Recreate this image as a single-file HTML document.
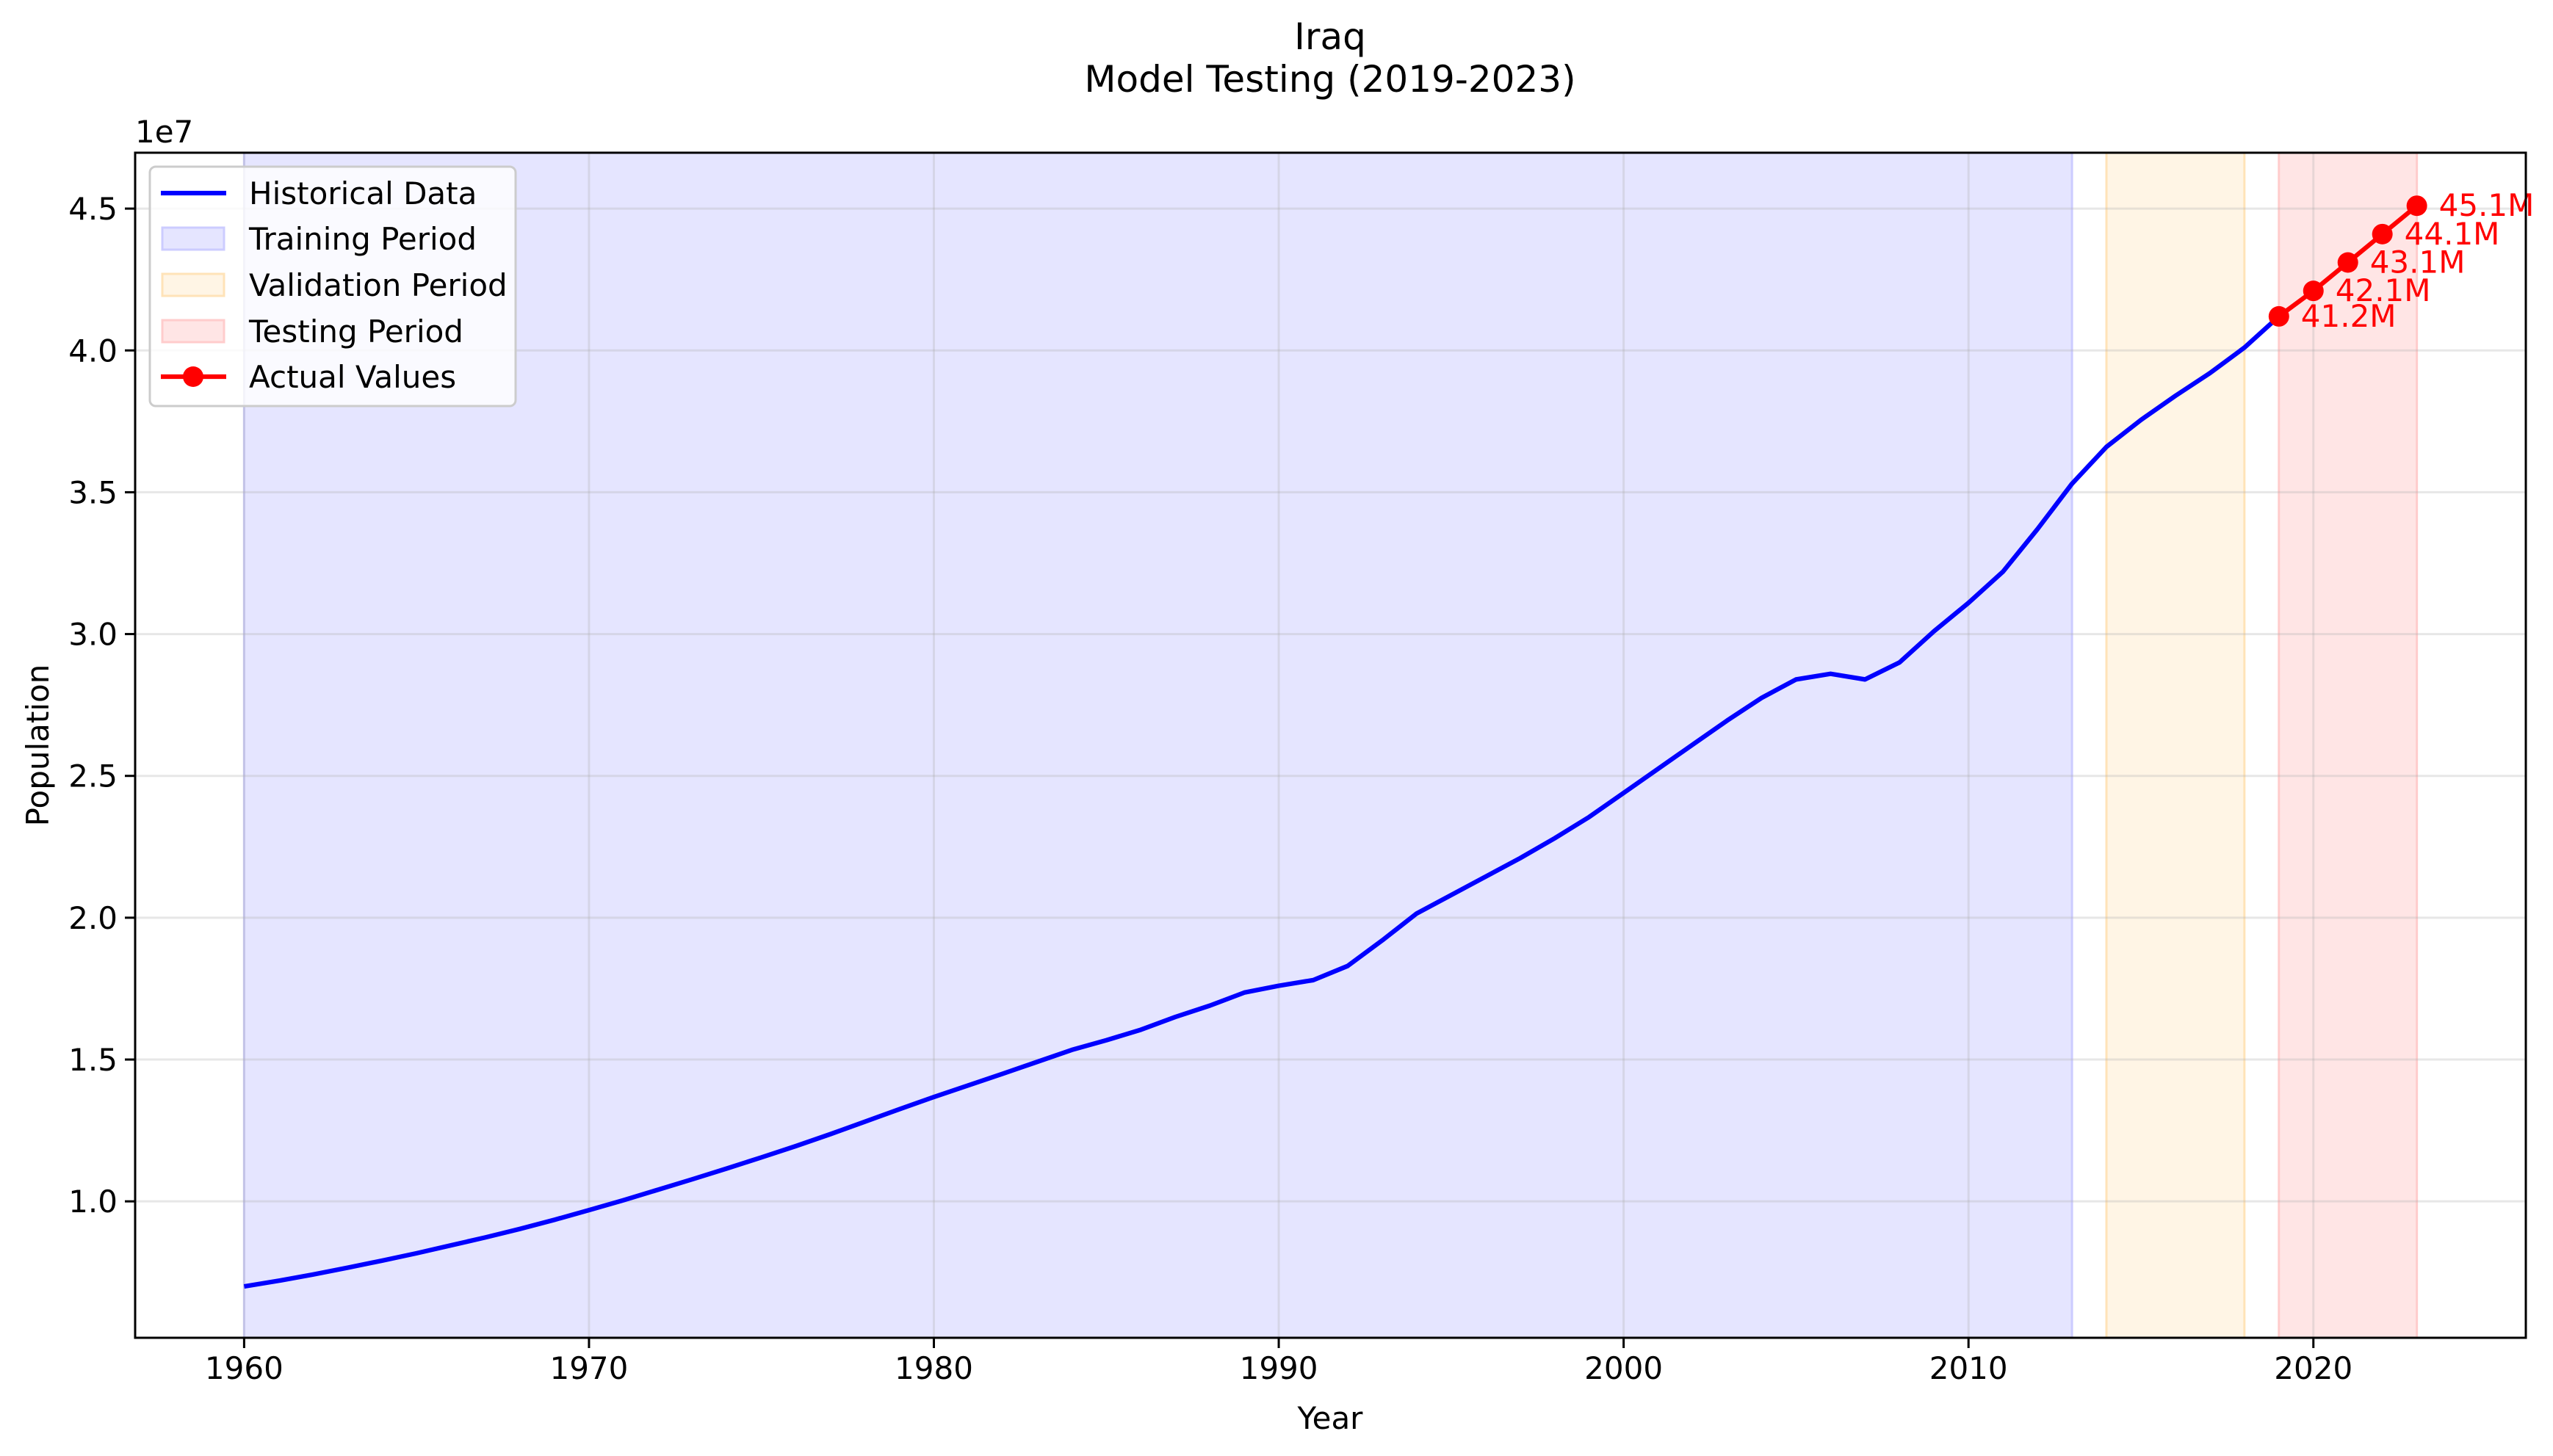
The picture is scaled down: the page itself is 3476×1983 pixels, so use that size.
<!DOCTYPE html>
<html><head><meta charset="utf-8"><style>
html,body{margin:0;padding:0;background:#fff;}
svg{display:block;font-family:"DejaVu Sans","Liberation Sans",sans-serif;}
</style></head><body>
<svg id="chart" width="3476" height="1983" viewBox="0 0 3476 1983" xmlns="http://www.w3.org/2000/svg">
<text x="1811" y="67" font-size="50" text-anchor="middle">Iraq</text>
<text x="1811" y="125" font-size="50" text-anchor="middle">Model Testing (2019-2023)</text>
<text x="1811" y="1946" font-size="42" text-anchor="middle">Year</text>
<text x="66" y="1015" font-size="42" text-anchor="middle" transform="rotate(-90 66 1015)">Population</text>
<text x="184" y="194" font-size="42">1e7</text>
<g id="plot"></g>
</svg>
<script>
const histYears = [1960,1961,1962,1963,1964,1965,1966,1967,1968,1969,1970,1971,1972,1973,1974,1975,1976,1977,1978,1979,1980,1981,1982,1983,1984,1985,1986,1987,1988,1989,1990,1991,1992,1993,1994,1995,1996,1997,1998,1999,2000,2001,2002,2003,2004,2005,2006,2007,2008,2009,2010,2011,2012,2013,2014,2015,2016,2017,2018,2019];
const histValues = [7.0,7.2,7.42,7.66,7.91,8.17,8.45,8.73,9.03,9.35,9.69,10.04,10.41,10.78,11.16,11.55,11.95,12.37,12.81,13.25,13.68,14.09,14.5,14.92,15.34,15.68,16.05,16.5,16.9,17.36,17.6,17.8,18.3,19.2,20.15,20.8,21.45,22.1,22.8,23.55,24.4,25.25,26.1,26.95,27.75,28.4,28.6,28.4,29.0,30.1,31.1,32.2,33.7,35.3,36.6,37.55,38.4,39.2,40.1,41.2];
const actualYears = [2019,2020,2021,2022,2023];
const actualValues = [41.2,42.1,43.1,44.1,45.1];
const actualLabels = ["41.2M","42.1M","43.1M","44.1M","45.1M"];
const periodNames = ["training-period","validation-period","testing-period"];
const periodStart = [1960,2014,2019];
const periodEnd = [2013,2018,2023];
const xTicks = [1960,1970,1980,1990,2000,2010,2020];
const yTicks = [10,15,20,25,30,35,40,45];
const yTickLabels = ["1.0","1.5","2.0","2.5","3.0","3.5","4.0","4.5"];

const L=184,R=3439,T=208,B=1822;
const X0=1956.84,X1=2026.16,Y0=5.19,Y1=46.97;
const sx=v=>L+(v-X0)/(X1-X0)*(R-L);
const sy=v=>B-(v-Y0)/(Y1-Y0)*(B-T);
const NS="http://www.w3.org/2000/svg";
const g=document.getElementById('plot');
function mk(tag,attrs,parent){const e=document.createElementNS(NS,tag);for(const k in attrs)e.setAttribute(k,attrs[k]);(parent||g).appendChild(e);return e;}

const fills=[["#e5e5ff","#ccccff"],["#fff5e5","#ffe3b8"],["#ffe5e5","#ffcccc"]];
periodNames.forEach((n,i)=>{
  const r=mk('rect',{x:sx(periodStart[i]),y:T,width:sx(periodEnd[i])-sx(periodStart[i]),height:B-T,fill:fills[i][0],stroke:fills[i][1],'stroke-width':3});
  
  
});
xTicks.forEach(t=>{
  const l=mk('line',{x1:sx(t),x2:sx(t),y1:T,y2:B,stroke:"#b0b0b0",'stroke-opacity':0.3,'stroke-width':3});
  
  
  const k=mk('line',{x1:sx(t),x2:sx(t),y1:B,y2:B+14,stroke:"#000",'stroke-width':3});
  
  
  const tx=mk('text',{x:sx(t),y:B+56,'font-size':42,'text-anchor':'middle'});
  tx.textContent=t;
  
  
});
yTicks.forEach((t,i)=>{
  const l=mk('line',{x1:L,x2:R,y1:sy(t),y2:sy(t),stroke:"#b0b0b0",'stroke-opacity':0.3,'stroke-width':3});
  
  
  const k=mk('line',{x1:L-14,x2:L,y1:sy(t),y2:sy(t),stroke:"#000",'stroke-width':3});
  
  
  const tx=mk('text',{x:L-24,y:sy(t)+15,'font-size':42,'text-anchor':'end'});
  tx.textContent=yTickLabels[i];
  
  
});
const hp=mk('polyline',{points:histYears.map((y,i)=>sx(y)+","+sy(histValues[i])).join(" "),fill:"none",stroke:"#0000ff",'stroke-width':6.25,'stroke-linejoin':'round'});


const ap=mk('polyline',{points:actualYears.map((y,i)=>sx(y)+","+sy(actualValues[i])).join(" "),fill:"none",stroke:"#ff0000",'stroke-width':6.25});


actualYears.forEach((y,i)=>{
  const c=mk('circle',{cx:sx(y),cy:sy(actualValues[i]),r:14,fill:"#ff0000"});
  
  
  const t=mk('text',{x:sx(y)+30,y:sy(actualValues[i])+14,'font-size':42,fill:"#ff0000"});
  t.textContent=actualLabels[i];
  
  
});
const frame=mk('rect',{x:L,y:T,width:R-L,height:B-T,fill:"none",stroke:"#000",'stroke-width':3});



// legend
const lg=mk('g',{});


mk('rect',{x:204,y:227,width:498,height:326,rx:8,fill:"#ffffff",'fill-opacity':0.8,stroke:"#cccccc",'stroke-width':3},lg);
const legNames=["Historical Data","Training Period","Validation Period","Testing Period","Actual Values"];
const legY=[263,325,388,451,513];
legNames.forEach((n,i)=>{
  const y=legY[i];
  if(i===0){mk('line',{x1:219,x2:308,y1:y,y2:y,stroke:"#0000ff",'stroke-width':6.25},lg);}
  else if(i===4){mk('line',{x1:219,x2:308,y1:y,y2:y,stroke:"#ff0000",'stroke-width':6.25},lg);mk('circle',{cx:263,cy:y,r:14,fill:"#ff0000"},lg);}
  else {mk('rect',{x:221,y:y-15,width:84,height:30,fill:fills[i-1][0],stroke:fills[i-1][1],'stroke-width':3},lg);}
  const t=mk('text',{x:339,y:y+15,'font-size':42},lg);
  t.textContent=n;
  
  
});
</script>
</body></html>
